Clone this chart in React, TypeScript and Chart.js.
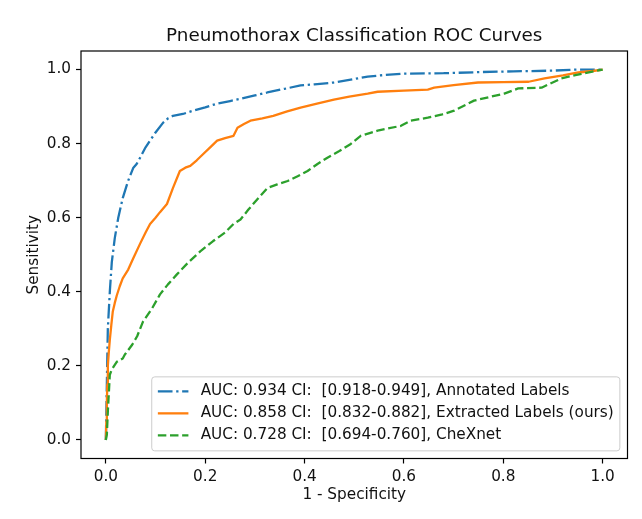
import React, { useEffect, useRef } from "react";
import { Chart, registerables } from "chart.js";

Chart.register(...registerables);

const chartTitle = "Pneumothorax Classification ROC Curves";
const xAxisTitle = "1 - Specificity";
const yAxisTitle = "Sensitivity";
const tickValues = [0, 0.2, 0.4, 0.6, 0.8, 1.0];

const seriesLabels = [
  "AUC: 0.934 CI:  [0.918-0.949], Annotated Labels",
  "AUC: 0.858 CI:  [0.832-0.882], Extracted Labels (ours)",
  "AUC: 0.728 CI:  [0.694-0.760], CheXnet",
];
const seriesColors = ["#1f77b4", "#ff7f0e", "#2ca02c"];

const annotatedFpr = [0, 0.002, 0.004, 0.008, 0.012, 0.018, 0.025, 0.034, 0.045, 0.055, 0.062, 0.069, 0.08, 0.089, 0.1, 0.115, 0.125, 0.135, 0.155, 0.176, 0.2, 0.224, 0.25, 0.271, 0.3, 0.325, 0.36, 0.392, 0.42, 0.459, 0.49, 0.527, 0.56, 0.6, 0.68, 0.75, 0.82, 0.9, 0.95, 1.0];
const annotatedTpr = [0, 0.15, 0.3, 0.4, 0.48, 0.545, 0.6, 0.653, 0.7, 0.734, 0.745, 0.762, 0.79, 0.808, 0.83, 0.856, 0.868, 0.875, 0.88, 0.889, 0.898, 0.908, 0.915, 0.921, 0.93, 0.938, 0.948, 0.957, 0.96, 0.965, 0.972, 0.981, 0.985, 0.989, 0.99, 0.993, 0.995, 0.997, 1.0, 1.0];

const extractedFpr = [0, 0.001, 0.002, 0.003, 0.004, 0.006, 0.008, 0.011, 0.014, 0.018, 0.022, 0.028, 0.034, 0.045, 0.055, 0.069, 0.08, 0.089, 0.1, 0.109, 0.123, 0.135, 0.149, 0.16, 0.17, 0.183, 0.196, 0.21, 0.224, 0.24, 0.257, 0.265, 0.278, 0.291, 0.315, 0.337, 0.365, 0.392, 0.425, 0.459, 0.49, 0.527, 0.547, 0.6, 0.648, 0.661, 0.7, 0.749, 0.8, 0.851, 0.883, 0.92, 0.951, 0.98, 1.0];
const extractedTpr = [0, 0.05, 0.103, 0.15, 0.2, 0.238, 0.27, 0.31, 0.347, 0.37, 0.39, 0.415, 0.436, 0.46, 0.49, 0.53, 0.56, 0.583, 0.6, 0.615, 0.637, 0.68, 0.726, 0.735, 0.74, 0.755, 0.772, 0.79, 0.808, 0.815, 0.821, 0.843, 0.853, 0.862, 0.868, 0.875, 0.887, 0.897, 0.908, 0.919, 0.927, 0.935, 0.94, 0.943, 0.946, 0.951, 0.958, 0.965, 0.966, 0.967, 0.976, 0.984, 0.992, 0.996, 1.0];

const chexnetFpr = [0, 0.002, 0.004, 0.008, 0.012, 0.018, 0.022, 0.034, 0.038, 0.053, 0.063, 0.075, 0.093, 0.109, 0.125, 0.143, 0.165, 0.19, 0.216, 0.24, 0.257, 0.271, 0.287, 0.305, 0.325, 0.345, 0.366, 0.386, 0.406, 0.426, 0.446, 0.47, 0.493, 0.513, 0.547, 0.594, 0.614, 0.648, 0.675, 0.701, 0.741, 0.77, 0.802, 0.83, 0.877, 0.917, 0.945, 0.972, 1.0];
const chexnetTpr = [0, 0.014, 0.076, 0.176, 0.19, 0.203, 0.211, 0.22, 0.23, 0.257, 0.28, 0.32, 0.355, 0.393, 0.42, 0.447, 0.478, 0.509, 0.537, 0.56, 0.583, 0.595, 0.622, 0.65, 0.68, 0.69, 0.699, 0.712, 0.726, 0.745, 0.762, 0.78, 0.799, 0.821, 0.835, 0.848, 0.862, 0.87, 0.878, 0.889, 0.916, 0.925, 0.935, 0.949, 0.951, 0.976, 0.985, 0.992, 1.0];

const PX = 1.1 * (100 / 72);
const FS = 10 * PX;
const LW = 1.5 * PX;
const dashDot = [6.4, 1.6, 1.0, 1.6].map((v) => v * 1.5 * PX);
const dashed = [3.7, 1.6].map((v) => v * 1.5 * PX);
const dashes = [dashDot, [], dashed];
const FONT = "'DejaVu Sans', sans-serif";
const TEXT = "#111111";

const toPoints = (xs: number[], ys: number[]) => xs.map((x, i) => ({ x, y: ys[i] }));

const framePlugin = {
  id: "frame",
  afterDatasetsDraw(chart: any) {
    const { ctx, chartArea: a } = chart;
    ctx.save();
    ctx.strokeStyle = "#000";
    ctx.lineWidth = 1.2;
    ctx.strokeRect(a.left, a.top, a.right - a.left, a.bottom - a.top);
    ctx.restore();
  },
};

const legendPlugin = {
  id: "mplLegend",
  afterDraw(chart: any) {
    const { ctx, chartArea: a } = chart;
    const ds = chart.data.datasets;
    ctx.save();
    ctx.font = `${FS}px ${FONT}`;
    const widths = ds.map((d: any) => ctx.measureText(d.label).width);
    const maxW = Math.max(...widths);
    const borderPad = 0.4 * FS;
    const handleLen = 2 * FS;
    const handlePad = 0.8 * FS;
    const axPad = 0.5 * FS;
    const rowH = 22;
    const boxH = 74;
    const right = a.right - axPad;
    const bottom = a.bottom - axPad;
    const boxW = 2 * borderPad + handleLen + handlePad + maxW;
    const left = right - boxW;
    const top = bottom - boxH;
    ctx.beginPath();
    ctx.roundRect(left, top, boxW, boxH, 3);
    ctx.fillStyle = "rgba(255,255,255,0.85)";
    ctx.fill();
    ctx.strokeStyle = "#cccccc";
    ctx.lineWidth = 1;
    ctx.stroke();
    ds.forEach((d: any, i: number) => {
      const cy = top + 14.5 + i * rowH;
      const hx = left + borderPad;
      ctx.beginPath();
      ctx.setLineDash(d.borderDash || []);
      ctx.strokeStyle = d.borderColor;
      ctx.lineWidth = LW;
      ctx.moveTo(hx, cy);
      ctx.lineTo(hx + handleLen, cy);
      ctx.stroke();
      ctx.setLineDash([]);
      ctx.fillStyle = TEXT;
      ctx.textBaseline = "middle";
      ctx.textAlign = "left";
      ctx.fillText(d.label, hx + handleLen + handlePad, cy);
    });
    ctx.restore();
  },
};

export default function App() {
  const ref = useRef<HTMLCanvasElement | null>(null);
  useEffect(() => {
    document.body.style.margin = "0";
    const canvas = ref.current;
    if (!canvas) return;
    const xs = [annotatedFpr, extractedFpr, chexnetFpr];
    const ys = [annotatedTpr, extractedTpr, chexnetTpr];
    const chart = new Chart(canvas, {
      type: "scatter",
      data: {
        datasets: seriesLabels.map((label, i) => ({
          label,
          data: toPoints(xs[i], ys[i]),
          showLine: true,
          borderColor: seriesColors[i],
          backgroundColor: seriesColors[i],
          borderWidth: LW,
          borderDash: dashes[i],
          pointRadius: 0,
          pointHoverRadius: 0,
          tension: 0,
          borderJoinStyle: "round" as const,
          order: 2 - i,
        })),
      },
      options: {
        animation: false,
        responsive: false,
        events: [],
        layout: { padding: { left: 0, right: 14.5, top: 0, bottom: 0 } },
        plugins: {
          legend: { display: false },
          tooltip: { enabled: false },
          title: {
            display: true,
            text: chartTitle,
            fullSize: false,
            color: TEXT,
            font: { family: FONT, size: 12 * PX, weight: "normal" as const, lineHeight: 1.2 },
            padding: { top: 25, bottom: 4 },
          },
        },
        scales: {
          x: {
            type: "linear",
            min: -0.05,
            max: 1.05,
            afterBuildTicks: (s: any) => {
              s.ticks = tickValues.map((v) => ({ value: v }));
            },
            afterFit: (s: any) => {
              s.height = 60.5;
            },
            ticks: {
              color: TEXT,
              font: { family: FONT, size: FS },
              padding: 4,
              maxRotation: 0,
              autoSkip: false,
              callback: (v: any) => Number(v).toFixed(1),
            },
            grid: { display: true, drawOnChartArea: false, drawTicks: true, tickLength: 5, tickColor: "#000", tickWidth: 1.2 },
            border: { display: false },
            title: {
              display: true,
              text: xAxisTitle,
              color: TEXT,
              font: { family: FONT, size: FS },
              padding: { top: 0, bottom: 15 },
            },
          },
          y: {
            type: "linear",
            min: -0.05,
            max: 1.05,
            afterBuildTicks: (s: any) => {
              s.ticks = tickValues.map((v) => ({ value: v }));
            },
            afterFit: (s: any) => {
              s.width = 81;
            },
            ticks: {
              color: TEXT,
              font: { family: FONT, size: FS },
              padding: 5,
              autoSkip: false,
              callback: (v: any) => Number(v).toFixed(1),
            },
            grid: { display: true, drawOnChartArea: false, drawTicks: true, tickLength: 5, tickColor: "#000", tickWidth: 1.2 },
            border: { display: false },
            title: {
              display: true,
              text: yAxisTitle,
              color: TEXT,
              font: { family: FONT, size: FS },
              padding: { top: 25, bottom: 0 },
            },
          },
        },
      },
      plugins: [framePlugin, legendPlugin],
    } as any);
    return () => chart.destroy();
  }, []);
  return (
    <div style={{ width: 642, height: 519, background: "#fff" }}>
      <canvas ref={ref} width={642} height={519} style={{ display: "block" }} />
    </div>
  );
}
